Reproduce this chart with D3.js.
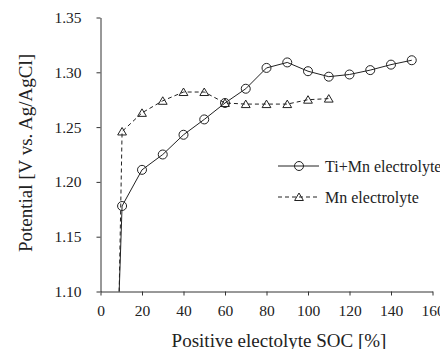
<!DOCTYPE html>
<html>
<head>
<meta charset="utf-8">
<script src="https://cdn.jsdelivr.net/npm/d3@7"></script>
<style>
  body { margin: 0; background: #fff; }
  svg { display: block; font-family: "Liberation Serif", "Times New Roman", serif; }
</style>
</head>
<body>
<script>
// data (first point of each series is where the curve leaves the axis, no marker)
const socTiMn = [9, 10.4, 20, 30, 40, 50, 60, 70, 80, 90, 100, 110, 120, 130, 140, 150];
const potTiMn = [1.10, 1.178, 1.211, 1.225, 1.243, 1.257, 1.272, 1.285, 1.304, 1.309, 1.301, 1.296, 1.298, 1.302, 1.307, 1.311];
const socMn = [9, 10.4, 20, 30, 40, 50, 60, 70, 80, 90, 100, 110];
const potMn = [1.10, 1.246, 1.263, 1.274, 1.282, 1.282, 1.272, 1.271, 1.271, 1.271, 1.275, 1.276];
const xTicks = [0, 20, 40, 60, 80, 100, 120, 140, 160];
const yTicks = [1.10, 1.15, 1.20, 1.25, 1.30, 1.35];
const seriesNames = ["Ti+Mn electrolyte", "Mn electrolyte"];

const W = 440, H = 349;
const svg = d3.select("body").append("svg").attr("width", W).attr("height", H);

const x = d3.scaleLinear().domain([0, 160]).range([100.5, 432.5]);
const y = d3.scaleLinear().domain([1.10, 1.35]).range([291.5, 17.5]);

/* axes */
const xAxis = svg.append("g")
  .attr("transform", `translate(0,${y(1.10)})`)
  .call(d3.axisBottom(x).tickValues(xTicks).tickSize(4).tickSizeOuter(0).tickPadding(9).tickFormat(d3.format("d")));
const yAxis = svg.append("g")
  .attr("transform", `translate(${x(0)},0)`)
  .call(d3.axisLeft(y).tickValues(yTicks).tickSize(4).tickSizeOuter(0).tickPadding(15).tickFormat(d3.format(".2f")));

[xAxis, yAxis].forEach(a => {
  a.selectAll("path, line").attr("stroke", "#333");
  a.selectAll("text").attr("fill", "#222").style("font-size", "15.5px").style("font-family", "Liberation Serif");
});

svg.append("text")
  .attr("x", 279).attr("y", 347)
  .attr("text-anchor", "middle")
  .attr("fill", "#222")
  .style("font-size", "19px")
  .text("Positive electolyte SOC [%]");

svg.append("text")
  .attr("transform", "translate(32,153) rotate(-90)")
  .attr("text-anchor", "middle")
  .attr("fill", "#222")
  .style("font-size", "19px")
  .text("Potential [V vs. Ag/AgCl]");

/* series */
const line = d3.line().x(d => x(d[0])).y(d => y(d[1]));
const tiMn = d3.zip(socTiMn, potTiMn);
const mn = d3.zip(socMn, potMn);

const triPath = "M0,-4L4.4,3.5L-4.4,3.5Z";

svg.append("path").datum(mn)
  .attr("d", line).attr("fill", "none").attr("stroke", "#222").attr("stroke-width", 1)
  .attr("stroke-dasharray", "4,3");
svg.append("path").datum(tiMn)
  .attr("d", line).attr("fill", "none").attr("stroke", "#222").attr("stroke-width", 1);

svg.append("g").selectAll("path").data(mn.slice(1)).enter().append("path")
  .attr("transform", d => `translate(${x(d[0])},${y(d[1])})`)
  .attr("d", triPath).attr("fill", "none").attr("stroke", "#222");

svg.append("g").selectAll("circle").data(tiMn.slice(1)).enter().append("circle")
  .attr("cx", d => x(d[0])).attr("cy", d => y(d[1])).attr("r", 4.5)
  .attr("fill", "none").attr("stroke", "#222");

/* legend */
const legend = svg.append("g");
const rows = [{ name: seriesNames[0], ly: 166, dash: null, mark: "circle" },
              { name: seriesNames[1], ly: 197, dash: "4,3", mark: "tri" }];
rows.forEach(r => {
  legend.append("line").attr("x1", 278).attr("x2", 319).attr("y1", r.ly).attr("y2", r.ly)
    .attr("stroke", "#222").attr("stroke-dasharray", r.dash);
  if (r.mark === "circle") {
    legend.append("circle").attr("cx", 299).attr("cy", r.ly).attr("r", 4.5).attr("fill", "none").attr("stroke", "#222");
  } else {
    legend.append("path").attr("transform", `translate(299,${r.ly})`).attr("d", triPath).attr("fill", "none").attr("stroke", "#222");
  }
  legend.append("text").attr("x", 325).attr("y", r.ly + 5.5)
    .attr("fill", "#222").style("font-size", "16px").text(r.name);
});
</script>
</body>
</html>
